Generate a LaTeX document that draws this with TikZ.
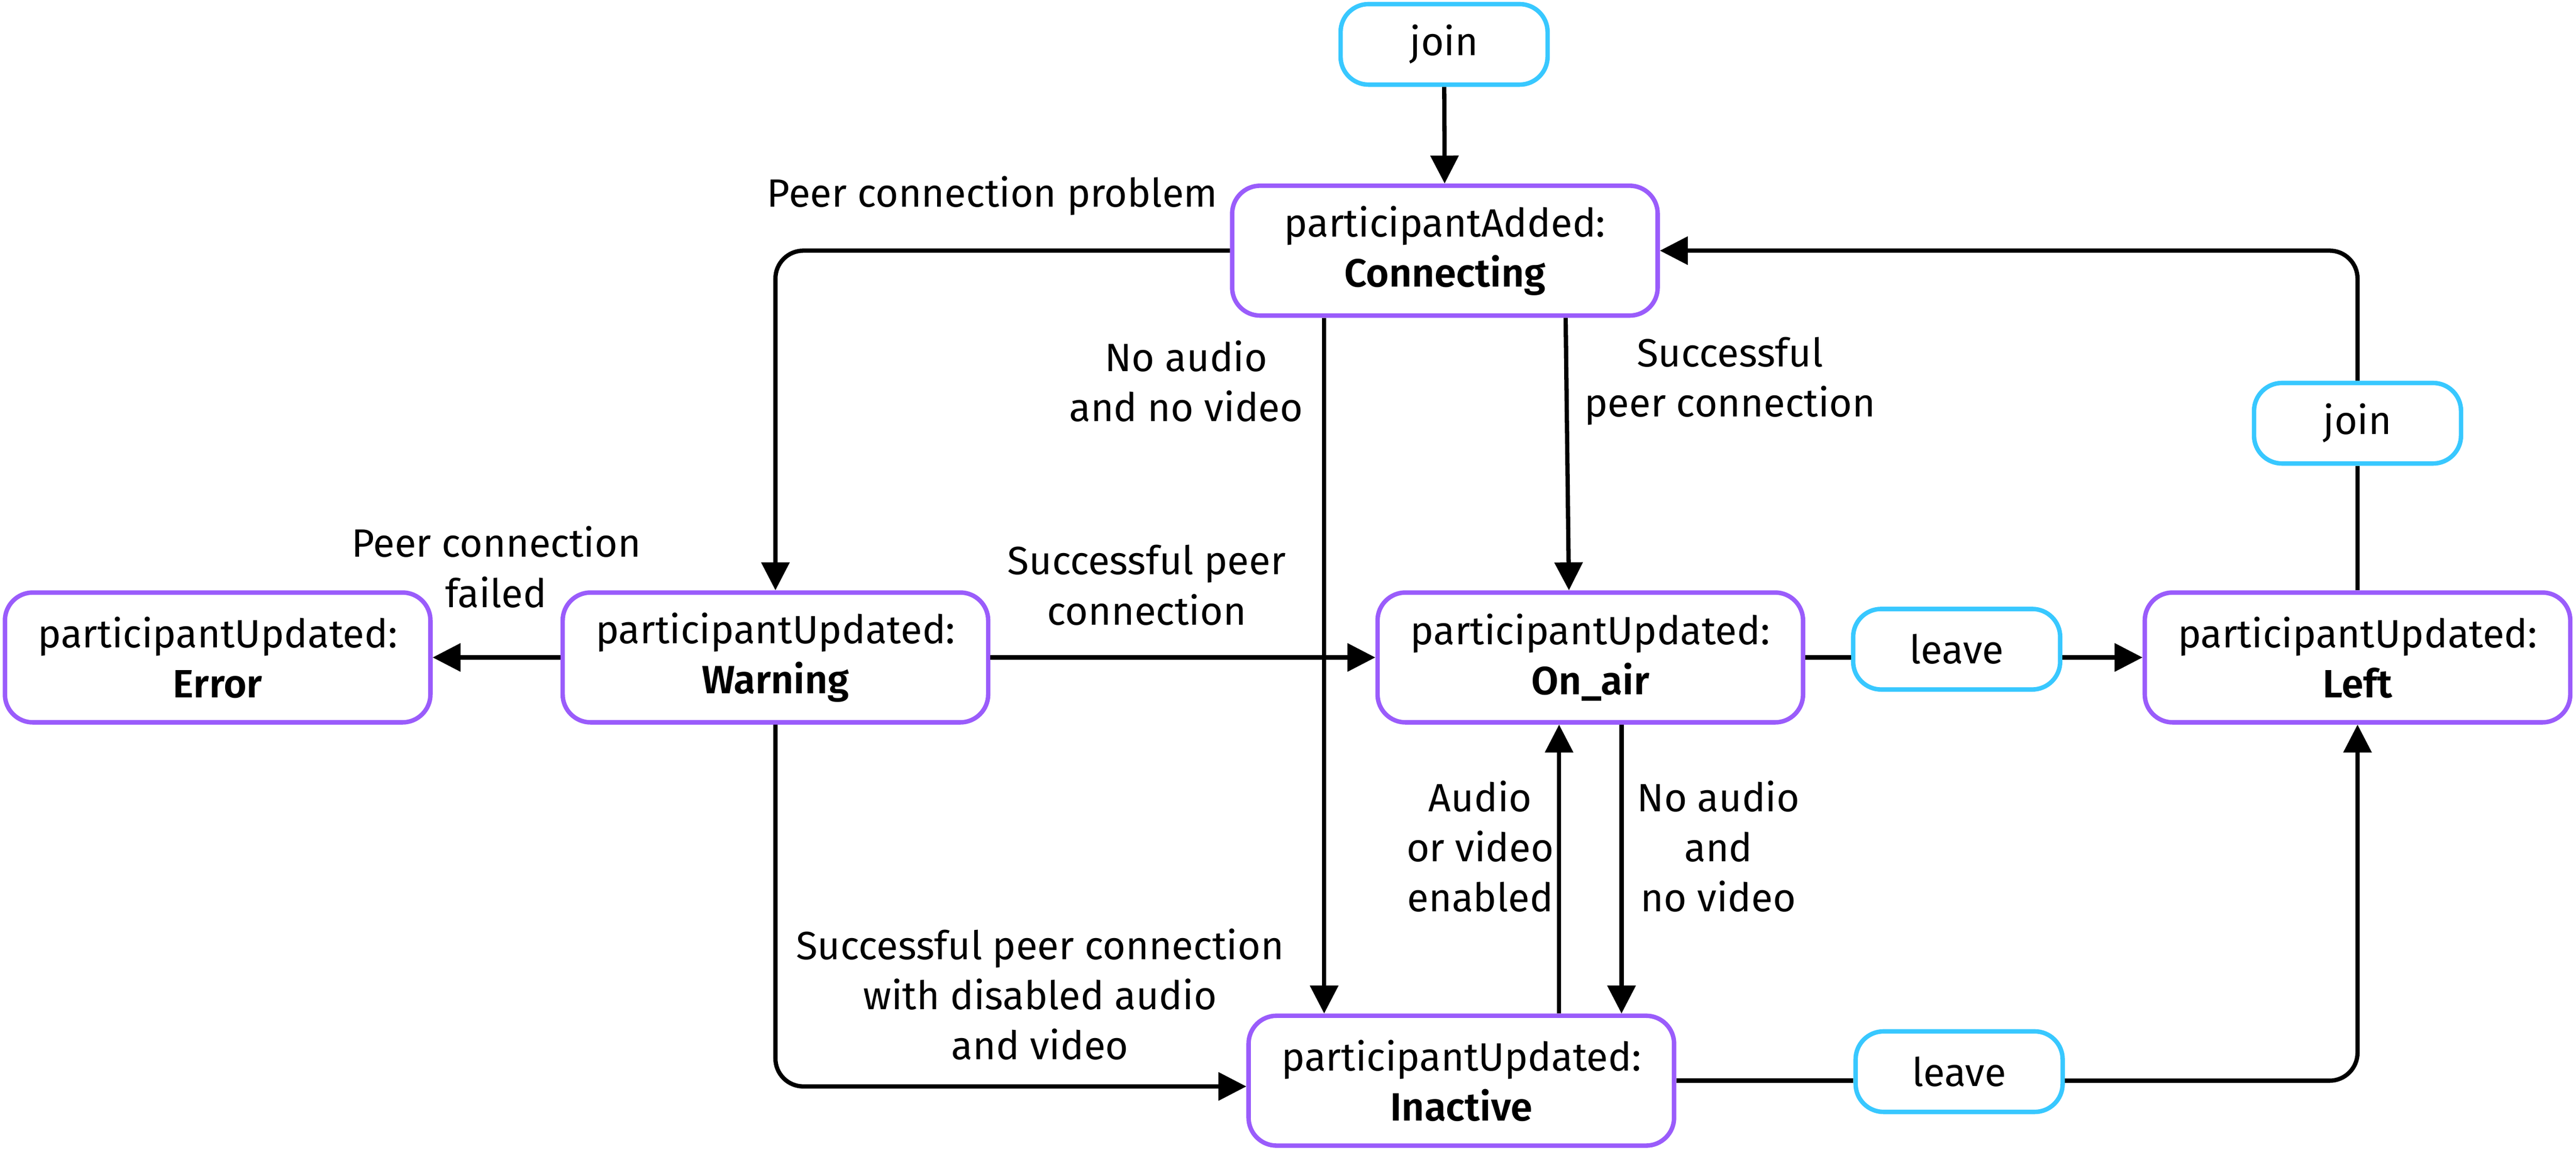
\documentclass[tikz,border=0pt]{standalone}
\usepackage{fontspec}
\setmainfont{Fira Sans}[BoldFont={Fira Sans SemiBold}]
\usepackage{xcolor}
\usetikzlibrary{arrows.meta,positioning,calc}
\definecolor{statepurple}{HTML}{9A5CFB}
\definecolor{actioncyan}{HTML}{38C8FF}

\begin{document}
\begin{tikzpicture}[
    x=0.5pt, y=-0.5pt,
    every node/.style={font=\fontsize{12}{15.25}\selectfont},
    state/.style={rectangle, rounded corners=8.5pt, draw=statepurple, line width=1.35pt, minimum width=129.5pt, minimum height=39.5pt, align=center, fill=white},
    action/.style={rectangle, rounded corners=8.5pt, draw=actioncyan, line width=1.35pt, minimum width=63pt, minimum height=24.5pt, align=center, fill=white},
    arrow/.style={-{Triangle[length=8.5pt,width=8.4pt]}, line width=1.3pt},
    link/.style={line width=1.3pt},
    lbl/.style={align=center}
]
    \useasboundingbox (0,0) rectangle (1568,700.8);

    % States
    \node[action] (joinA) at (879,27) {join};
    \node[state] (conn) at (879.5,152.5) {participantAdded:\\\textbf{Connecting}};
    \node[state] (error) at (132.5,400) {participantUpdated:\\\textbf{Error}};
    \node[state] (warning) at (472,400) {participantUpdated:\\\textbf{Warning}};
    \node[state] (onair) at (968,400) {participantUpdated:\\\textbf{On\_air}};
    \node[action] (leaveA) at (1191,395) {leave};
    \node[state] (left) at (1435,400) {participantUpdated:\\\textbf{Left}};
    \node[action] (joinB) at (1435,257.5) {join};
    \node[state] (inactive) at (889.5,657.5) {participantUpdated:\\\textbf{Inactive}};
    \node[action] (leaveB) at (1192.5,652) {leave};

    % Transitions
    \draw[arrow] (joinA) -- (conn);
    \draw[arrow, rounded corners=8.5pt] (conn.west) -| (warning.north);
    \draw[arrow] (conn.south -| 806,0) -- (inactive.north -| 806,0);
    \draw[arrow] (conn.south -| 953,0) -- (onair.north -| 955,0);
    \draw[arrow] (warning.west) -- (error.east);
    \draw[arrow] (warning.east) -- (onair.west);
    \draw[arrow, rounded corners=8.5pt] (warning.south) |- ([yshift=-1.75pt]inactive.west);
    \draw[arrow] (inactive.north -| 949,0) -- (onair.south -| 949,0);
    \draw[arrow] (onair.south -| 987,0) -- (inactive.north -| 987,0);
    \draw[link] (onair.east) -- (onair.east -| leaveA.west);
    \draw[arrow] (onair.east -| leaveA.east) -- (left.west);
    \draw[link] (left.north) -- (joinB.south);
    \draw[arrow, rounded corners=8.5pt] (joinB.north) |- (conn.east);
    \draw[link] (inactive.east) -- (inactive.east -| leaveB.west);
    \draw[arrow, rounded corners=8.5pt] (inactive.east -| leaveB.east) -| (left.south);

    % Labels
    \node[lbl] (lblProblem) at (604,119) {Peer connection problem};
    \node[lbl] (lblNoAV) at (722,232) {No audio\\and no video};
    \node[lbl] (lblPeerOk) at (1053,232) {Successful\\peer connection};
    \node[lbl] (lblFailed) at (302,345) {Peer connection\\failed};
    \node[lbl] (lblWarnOk) at (698,356) {Successful peer\\connection};
    \node[lbl] (lblEnabled) at (901,515) {Audio\\or video\\enabled};
    \node[lbl] (lblDisabled) at (1046,515) {No audio\\and\\no video};
    \node[lbl] (lblMuted) at (633,605) {Successful peer connection\\with disabled audio\\and video};
\end{tikzpicture}
\end{document}
